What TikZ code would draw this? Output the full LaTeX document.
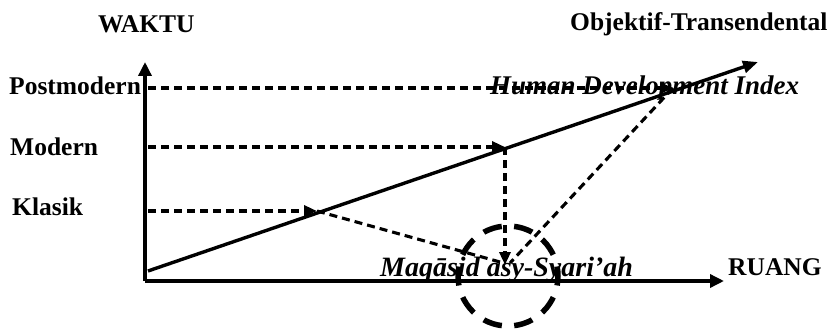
\documentclass[tikz,border=0pt]{standalone}
\usepackage{fontspec}
\setmainfont{Liberation Serif}
\usetikzlibrary{arrows.meta}
\begin{document}
\begin{tikzpicture}[x=1pt,y=-1pt,
  lbl/.style={font=\fontsize{25.5}{28}\selectfont\bfseries, inner sep=0pt, anchor=base west},
  itl/.style={font=\fontsize{27}{30}\selectfont\bfseries\itshape, inner sep=0pt, anchor=base west},
  axis/.style={line width=3.4pt, -{Triangle[length=14pt,width=13pt]}},
  mainline/.style={line width=3.4pt, -{Triangle[length=15pt,width=12pt]}},
  dsh/.style={line width=3.2pt, dash pattern=on 8pt off 5pt, -{Triangle[length=13pt,width=11pt]}},
  dshplain/.style={line width=3.1pt, dash pattern=on 8pt off 5pt},
  ring/.style={line width=5.5pt, dash pattern=on 19pt off 12.4pt, dash phase=9.5pt}]
\useasboundingbox (0,0) rectangle (836,329);
% labels
\node[lbl] (waktu) at (98,33) {WAKTU};
\node[lbl] (objt) at (570,31) {Objektif-Transendental};
\node[lbl] (post) at (9,95) {Postmodern};
\node[lbl] (mod) at (10,155) {Modern};
\node[lbl] (klas) at (12,215) {Klasik};
\node[lbl] (ruang) at (728,275) {RUANG};
\node[itl] (hdi) at (490,95) {Human Development Index};
\node[itl, font=\fontsize{28}{30}\selectfont\bfseries\itshape] (maq) at (380,276) {Maqāsid asy-Syari’ah};
% coordinates
\coordinate (o) at (145,281);
\coordinate (ytop) at (145,62);
\coordinate (xend) at (724,281);
\coordinate (ls) at (148,271);
\coordinate (le) at (758,62);
\coordinate (pk) at (317,211);
\coordinate (pm) at (505,147);
\coordinate (pp) at (673,88);
\coordinate (sk) at (148,211);
\coordinate (sm) at (148,147);
\coordinate (sp) at (148,88);
\coordinate (c) at (505,265);
\coordinate (ck) at (500,262);
\coordinate (cp) at (510,263);
\coordinate (cc) at (508,276);
% axes
\draw[axis] (o) -- (ytop);
\draw[axis] (o) -- (xend);
\draw[mainline] (ls) -- (le);
% dashed
\draw[dsh] (sp) -- (pp);
\draw[dsh] (sm) -- (pm);
\draw[dsh] (sk) -- (pk);
\draw[dsh] (pm) -- (c);
\draw[dshplain] (pk) -- (ck);
\draw[dshplain] (pp) -- (cp);
% circle
\draw[ring] (cc) circle (50);
\end{tikzpicture}
\end{document}
